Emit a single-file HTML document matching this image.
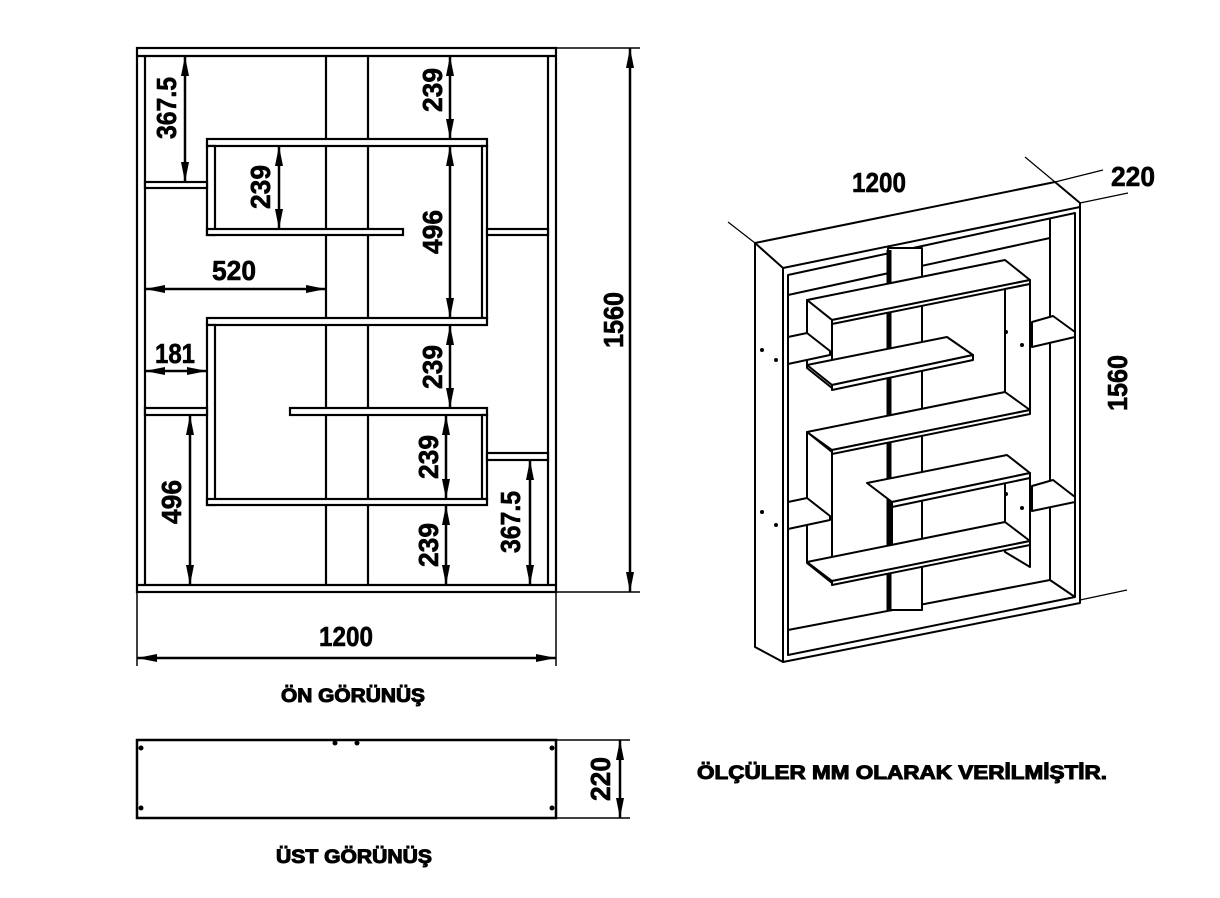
<!DOCTYPE html>
<html><head><meta charset="utf-8"><style>
html,body{margin:0;padding:0;background:#fff;}
svg{display:block;}
text{font-family:"Liberation Sans",sans-serif;font-weight:bold;fill:#000;}
</style></head><body>
<svg width="1220" height="898" viewBox="0 0 1220 898" xmlns="http://www.w3.org/2000/svg">
<defs>
<marker id="b" viewBox="0 0 20 8" refX="20" refY="4" markerWidth="20" markerHeight="8" orient="auto-start-reverse" markerUnits="userSpaceOnUse">
<path d="M0,0 L20,4 L0,8 z" fill="#000"/></marker>
</defs>
<g fill="none" stroke="#000" stroke-width="2.2">
<rect x="137" y="48" width="419" height="544"/>
<line x1="137" y1="56" x2="556" y2="56"/>
<line x1="137" y1="585" x2="556" y2="585"/>
<line x1="145" y1="56" x2="145" y2="585"/>
<line x1="548" y1="56" x2="548" y2="585"/>
<line x1="326" y1="56" x2="326" y2="585"/>
<line x1="368" y1="56" x2="368" y2="585"/>
</g>
<g fill="#fff" stroke="#000" stroke-width="2.2">
<rect x="207" y="139" width="280" height="7"/>
<rect x="207" y="146" width="8" height="89"/>
<rect x="207" y="229" width="196" height="6"/>
<rect x="482" y="146" width="5" height="172"/>
<rect x="145" y="182" width="62" height="6"/>
<rect x="487" y="229" width="61" height="6"/>
<rect x="207" y="318" width="280" height="7"/>
<rect x="207" y="325" width="8" height="180"/>
<rect x="290" y="408" width="197" height="7"/>
<rect x="482" y="415" width="5" height="84"/>
<rect x="207" y="499" width="280" height="6"/>
<rect x="145" y="408" width="62" height="7"/>
<rect x="487" y="453" width="61" height="7"/>
</g>
<g stroke="#000" stroke-width="2.5" fill="none">
<line x1="185" y1="56" x2="185" y2="182" marker-start="url(#b)" marker-end="url(#b)"/>
<line x1="450" y1="56" x2="450" y2="139" marker-start="url(#b)" marker-end="url(#b)"/>
<line x1="279" y1="146" x2="279" y2="229" marker-start="url(#b)" marker-end="url(#b)"/>
<line x1="450" y1="146" x2="450" y2="318" marker-start="url(#b)" marker-end="url(#b)"/>
<line x1="145" y1="289" x2="326" y2="289" marker-start="url(#b)" marker-end="url(#b)"/>
<line x1="145" y1="371" x2="207" y2="371" marker-start="url(#b)" marker-end="url(#b)"/>
<line x1="450" y1="325" x2="450" y2="408" marker-start="url(#b)" marker-end="url(#b)"/>
<line x1="446" y1="415" x2="446" y2="499" marker-start="url(#b)" marker-end="url(#b)"/>
<line x1="446" y1="505" x2="446" y2="585" marker-start="url(#b)" marker-end="url(#b)"/>
<line x1="530" y1="460" x2="530" y2="585" marker-start="url(#b)" marker-end="url(#b)"/>
<line x1="190" y1="415" x2="190" y2="585" marker-start="url(#b)" marker-end="url(#b)"/>
<line x1="556" y1="48" x2="640" y2="48" stroke-width="1.5"/>
<line x1="556" y1="592" x2="640" y2="592" stroke-width="1.5"/>
<line x1="630" y1="48" x2="630" y2="592" marker-start="url(#b)" marker-end="url(#b)"/>
<line x1="137" y1="592" x2="137" y2="666" stroke-width="1.5"/>
<line x1="556" y1="592" x2="556" y2="666" stroke-width="1.5"/>
<line x1="137" y1="658" x2="556" y2="658" marker-start="url(#b)" marker-end="url(#b)"/>
<rect x="137" y="740" width="419" height="78" stroke-width="2.5"/>
<line x1="556" y1="740" x2="630" y2="740" stroke-width="1.5"/>
<line x1="556" y1="818" x2="630" y2="818" stroke-width="1.5"/>
<line x1="620" y1="740" x2="620" y2="818" marker-start="url(#b)" marker-end="url(#b)"/>
</g>
<g fill="#000">
<circle cx="141" cy="748" r="2.5"/><circle cx="141" cy="808" r="2.5"/>
<circle cx="335" cy="743" r="2.5"/><circle cx="357" cy="743" r="2.5"/>
<circle cx="552" cy="748" r="2.5"/><circle cx="552" cy="808" r="2.5"/>
</g>
<g font-size="28" stroke="#000" stroke-width="0.6" lengthAdjust="spacingAndGlyphs">
<text transform="translate(176,108) rotate(-90)" text-anchor="middle" textLength="62" lengthAdjust="spacingAndGlyphs">367.5</text>
<text transform="translate(442,90) rotate(-90)" text-anchor="middle" textLength="44" lengthAdjust="spacingAndGlyphs">239</text>
<text transform="translate(270,187) rotate(-90)" text-anchor="middle" textLength="44" lengthAdjust="spacingAndGlyphs">239</text>
<text transform="translate(442,232) rotate(-90)" text-anchor="middle" textLength="44" lengthAdjust="spacingAndGlyphs">496</text>
<text x="234" y="280" text-anchor="middle" textLength="44" lengthAdjust="spacingAndGlyphs">520</text>
<text x="175" y="363" text-anchor="middle" textLength="40" lengthAdjust="spacingAndGlyphs">181</text>
<text transform="translate(442,367) rotate(-90)" text-anchor="middle" textLength="44" lengthAdjust="spacingAndGlyphs">239</text>
<text transform="translate(438,457) rotate(-90)" text-anchor="middle" textLength="44" lengthAdjust="spacingAndGlyphs">239</text>
<text transform="translate(438,545) rotate(-90)" text-anchor="middle" textLength="44" lengthAdjust="spacingAndGlyphs">239</text>
<text transform="translate(520,522) rotate(-90)" text-anchor="middle" textLength="62" lengthAdjust="spacingAndGlyphs">367.5</text>
<text transform="translate(181,502) rotate(-90)" text-anchor="middle" textLength="44" lengthAdjust="spacingAndGlyphs">496</text>
<text transform="translate(623,320) rotate(-90)" text-anchor="middle" textLength="56" lengthAdjust="spacingAndGlyphs">1560</text>
<text x="346" y="646" text-anchor="middle" textLength="54" lengthAdjust="spacingAndGlyphs">1200</text>
<text transform="translate(610,779) rotate(-90)" text-anchor="middle" textLength="44" lengthAdjust="spacingAndGlyphs">220</text>
<text x="879" y="192" text-anchor="middle" textLength="54" lengthAdjust="spacingAndGlyphs">1200</text>
<text x="1133" y="186" text-anchor="middle" textLength="44" lengthAdjust="spacingAndGlyphs">220</text>
<text transform="translate(1127,383) rotate(-90)" text-anchor="middle" textLength="56" lengthAdjust="spacingAndGlyphs">1560</text>
</g>
<g font-size="19" stroke="#000" stroke-width="1">
<text x="353" y="702" text-anchor="middle" textLength="144" lengthAdjust="spacingAndGlyphs">ÖN GÖRÜNÜŞ</text>
<text x="354" y="863" text-anchor="middle" textLength="156" lengthAdjust="spacingAndGlyphs">ÜST GÖRÜNÜŞ</text>
<text x="902" y="779" text-anchor="middle" textLength="410" lengthAdjust="spacingAndGlyphs">ÖLÇÜLER MM OLARAK VERİLMİŞTİR.</text>
</g>
<g fill="none" stroke="#000" stroke-width="2" stroke-linejoin="round">
<line x1="728" y1="222" x2="755" y2="243" stroke-width="1.2"/>
<line x1="1025" y1="157" x2="1055" y2="182" stroke-width="1.2"/>
<line x1="1055" y1="182" x2="1103" y2="170" stroke-width="1.2"/>
<line x1="1080" y1="203" x2="1128" y2="193" stroke-width="1.2"/>
<line x1="1080" y1="600" x2="1127" y2="590" stroke-width="1.2"/>
<polygon points="755,243 1055,182 1080,203 1080,603 783,662 755,647" fill="#fff"/>
<polyline points="755,243 783,268 1080,207"/>
<line x1="783" y1="268" x2="783" y2="662"/>
<polygon points="788,275 1075,213 1075,597 788,655"/>
<line x1="1050" y1="218" x2="1050" y2="580"/>
<polyline points="788,630 1050,580 1075,597"/>
<line x1="788" y1="295" x2="1050" y2="238"/>
<rect x="888" y="248" width="34" height="362" fill="#fff"/>
<line x1="889" y1="250" x2="889" y2="610" stroke-width="5"/>
<!-- upper box -->
<polygon points="807,300 1005,260 1030,280 832,320" fill="#fff"/>
<polygon points="832,320 1030,280 1030,284 832,324" fill="#fff"/>
<polygon points="807,300 832,320 832,388 807,368" fill="#fff"/>
<polygon points="1005,289 1030,284 1030,410 1005,395" fill="#fff"/>
<polygon points="807,365 947,337 973,355 832,385" fill="#fff"/>
<polygon points="832,385 973,355 973,360 832,390" fill="#fff"/>
<!-- middle shelf -->
<polygon points="807,432 1005,392 1030,410 832,450" fill="#fff"/>
<polygon points="832,450 1030,410 1030,414 832,454" fill="#fff"/>
<!-- lower box -->
<polygon points="807,432 832,452 832,583 807,563" fill="#fff"/>
<polygon points="1005,478 1030,473 1030,567 1005,552" fill="#fff"/>
<polygon points="867,483 1007,455 1030,473 892,502" fill="#fff"/>
<polygon points="892,502 1030,473 1030,478 892,507" fill="#fff"/>
<line x1="892" y1="507" x2="892" y2="545"/>
<polygon points="807,562 1005,522 1030,541 832,581" fill="#fff"/>
<polygon points="832,581 1030,541 1030,545 832,585" fill="#fff"/>
<polyline points="888,585 888,610 922,610 922,578"/>
<!-- side shelves -->
<polygon points="788,337 807,333 830,351 830,355 788,364" fill="#fff"/>
<polygon points="1032,322 1053,316 1075,332 1075,337 1032,347" fill="#fff"/>
<polygon points="788,502 807,498 830,516 830,520 788,529" fill="#fff"/>
<polygon points="1032,486 1053,480 1075,497 1075,502 1032,511" fill="#fff"/>
</g>
<g fill="#000">
<circle cx="762" cy="350" r="2"/><circle cx="776" cy="360" r="2"/>
<circle cx="762" cy="512" r="2"/><circle cx="776" cy="525" r="2"/>
<circle cx="1006" cy="332" r="2"/><circle cx="1022" cy="345" r="2"/>
<circle cx="1006" cy="494" r="2"/><circle cx="1022" cy="508" r="2"/>
</g>
</svg>
</body></html>
